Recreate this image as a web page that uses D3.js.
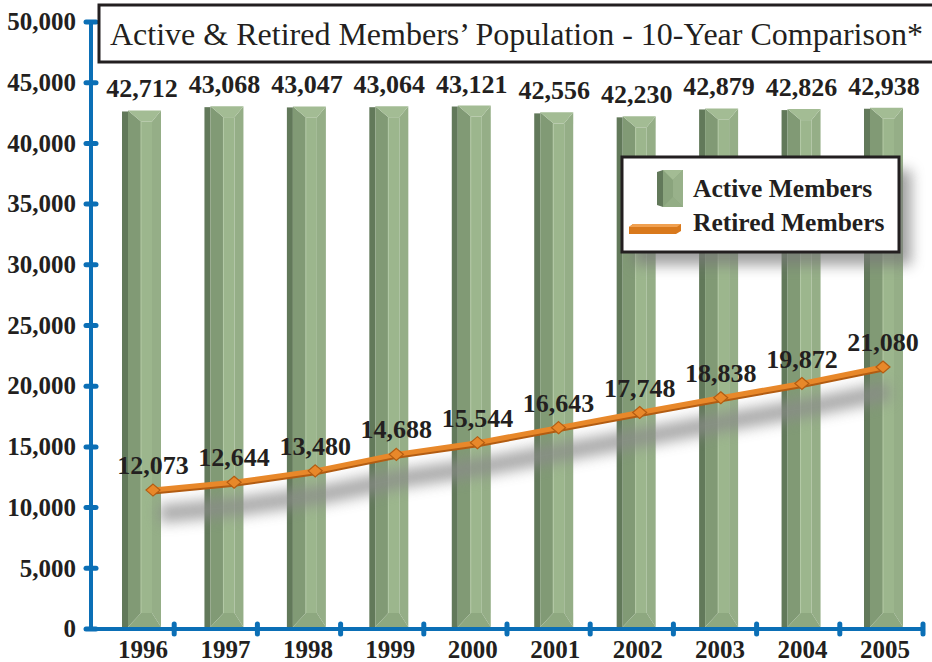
<!DOCTYPE html>
<html>
<head>
<meta charset="utf-8">
<script src="https://cdn.jsdelivr.net/npm/d3@7"></script>
<style>
  body { margin: 0; background: #fff; }
  text { font-family: "Liberation Serif", "DejaVu Serif", serif; fill: #231f20; }
</style>
</head>
<body>
<div id="chart"></div>
<script>
// Active & retired members, 10-year comparison
const years = ['1996', '1997', '1998', '1999', '2000', '2001', '2002', '2003', '2004', '2005'];
const activeMembers = [42712, 43068, 43047, 43064, 43121, 42556, 42230, 42879, 42826, 42938];
const retiredMembers = [12073, 12644, 13480, 14688, 15544, 16643, 17748, 18838, 19872, 21080];
const yTicks = [0, 5000, 10000, 15000, 20000, 25000, 30000, 35000, 40000, 45000, 50000];

const width = 932;
const height = 662;
const blue = '#0b6fb6';
const fmt = d3.format(',');

const svg = d3.select('#chart')
  .append('svg')
  .attr('width', width)
  .attr('height', height);

const defs = svg.append('defs');
defs.append('filter').attr('id', 'blur')
  .attr('x', '-20%').attr('y', '-50%').attr('width', '140%').attr('height', '200%')
  .append('feGaussianBlur').attr('stdDeviation', 7);

// scales
const y = d3.scaleLinear().domain([0, 50000]).range([629, 22]);
// the line sits on a slightly nearer plane (3d perspective in the original)
const yLine = d3.scaleLinear().domain([0, 50000]).range([655, -28]);
const xAxis = d3.scaleBand().domain(years).range([91, 923]);
const xBar = d3.scalePoint().domain(years).range([144, 886]);
const xLine = d3.scalePoint().domain(years).range([153, 883]);

// bars
const bars = svg.append('g')
  .selectAll('g')
  .data(years.map((yr, i) => ({ year: yr, value: activeMembers[i] })))
  .enter().append('g');

bars.each(function (d) {
  const g = d3.select(this);
  const c = xBar(d.year);
  const x0 = c - 16, x1 = c + 17;
  const top = y(d.value), bot = y(0) - 2;
  const il = x0 + 13, ir = x1 - 9, it = top + 11, ib = bot - 14;
  g.append('rect').attr('x', x0 - 6).attr('y', top + 1).attr('width', 6).attr('height', bot - top - 1)
    .attr('fill', '#62795a');
  g.append('polygon').attr('points', [[x0, top], [il, it], [il, ib], [x0, bot]].join(' '))
    .attr('fill', '#819a75');
  g.append('polygon').attr('points', [[x1, top], [ir, it], [ir, ib], [x1, bot]].join(' '))
    .attr('fill', '#95ae87');
  g.append('rect').attr('x', il).attr('y', it).attr('width', ir - il).attr('height', ib - it)
    .attr('fill', '#9cb68d');
  g.append('line').attr('x1', il).attr('x2', il).attr('y1', it).attr('y2', ib)
    .attr('stroke', '#b3c9a5').attr('stroke-width', 1);
  g.append('polygon').attr('points', [[x0, top], [x1, top], [ir, it], [il, it]].join(' '))
    .attr('fill', '#a3bc94');
  g.append('polygon').attr('points', [[x0, bot], [x1, bot], [ir, ib], [il, ib]].join(' '))
    .attr('fill', '#8ea880');
});

bars.append('text')
  .attr('x', d => xBar(d.year) - 2)
  .attr('y', d => y(d.value) - 13)
  .attr('text-anchor', 'middle')
  .attr('font-size', 26)
  .attr('font-weight', 'bold')
  .text(d => fmt(d.value));

// retired line
const linePts = years.map((yr, i) => ({ year: yr, value: retiredMembers[i] }));
const line = d3.line().x(d => xLine(d.year)).y(d => yLine(d.value));

svg.append('path')
  .datum(linePts)
  .attr('d', line)
  .attr('transform', 'translate(6,24)')
  .attr('fill', 'none')
  .attr('stroke', '#8a8a8a')
  .attr('stroke-width', 18)
  .attr('opacity', 0.75)
  .attr('filter', 'url(#blur)');

svg.append('path')
  .datum(linePts)
  .attr('d', line)
  .attr('transform', 'translate(0,2)')
  .attr('fill', 'none')
  .attr('stroke', '#b25c12')
  .attr('stroke-width', 5);

svg.append('path')
  .datum(linePts)
  .attr('d', line)
  .attr('fill', 'none')
  .attr('stroke', '#e8882a')
  .attr('stroke-width', 5);

svg.append('g')
  .selectAll('path')
  .data(linePts)
  .enter().append('path')
  .attr('d', 'M0,-6L7,0L0,6L-7,0Z')
  .attr('transform', d => `translate(${xLine(d.year)},${yLine(d.value)})`)
  .attr('fill', '#e8882a')
  .attr('stroke', '#b25c12')
  .attr('stroke-width', 1.2);

svg.append('g')
  .selectAll('text')
  .data(linePts)
  .enter().append('text')
  .attr('x', d => xLine(d.year))
  .attr('y', d => yLine(d.value) - 16)
  .attr('text-anchor', 'middle')
  .attr('font-size', 26)
  .attr('font-weight', 'bold')
  .text(d => fmt(d.value));

// axes
const axis = svg.append('g');
axis.append('line')
  .attr('x1', 91).attr('x2', 91).attr('y1', y(50000)).attr('y2', y(0) + 2)
  .attr('stroke', blue).attr('stroke-width', 4);
axis.append('line')
  .attr('x1', 89).attr('x2', xAxis.range()[1] + 2).attr('y1', y(0)).attr('y2', y(0))
  .attr('stroke', blue).attr('stroke-width', 4);

axis.selectAll('.ytick')
  .data(yTicks)
  .enter().append('line')
  .attr('x1', 86).attr('x2', 96)
  .attr('y1', d => y(d)).attr('y2', d => y(d))
  .attr('stroke', blue).attr('stroke-width', 5).attr('stroke-linecap', 'round');

axis.selectAll('.xtick')
  .data(years)
  .enter().append('line')
  .attr('x1', d => xAxis(d) + xAxis.bandwidth())
  .attr('x2', d => xAxis(d) + xAxis.bandwidth())
  .attr('y1', y(0) - 5).attr('y2', y(0) + 5)
  .attr('stroke', blue).attr('stroke-width', 5).attr('stroke-linecap', 'round');

axis.selectAll('.ylabel')
  .data(yTicks)
  .enter().append('text')
  .attr('x', 76)
  .attr('y', d => y(d))
  .attr('dy', '0.33em')
  .attr('text-anchor', 'end')
  .attr('font-size', 25)
  .attr('font-weight', 'bold')
  .text(d => fmt(d));

axis.selectAll('.xlabel')
  .data(years)
  .enter().append('text')
  .attr('x', d => xBar(d) - 1)
  .attr('y', 658)
  .attr('text-anchor', 'middle')
  .attr('font-size', 25)
  .attr('font-weight', 'bold')
  .text(d => d);

// title box
svg.append('rect')
  .attr('x', 99).attr('y', 5).attr('width', 840).attr('height', 57)
  .attr('fill', '#fff').attr('stroke', '#231f20').attr('stroke-width', 3);
svg.append('text')
  .attr('x', 110).attr('y', 45)
  .attr('font-size', 32)
  .text('Active & Retired Members’ Population - 10-Year Comparison*');

// legend
const legend = svg.append('g');
legend.append('rect')
  .attr('x', 634).attr('y', 170).attr('width', 277).attr('height', 95)
  .attr('fill', '#777').attr('opacity', 0.7).attr('filter', 'url(#blur)');
legend.append('rect')
  .attr('x', 622).attr('y', 157).attr('width', 277).attr('height', 95)
  .attr('fill', '#fff').attr('stroke', '#231f20').attr('stroke-width', 3);

legend.append('polygon').attr('points', '657,172 663,170 663,207 657,205').attr('fill', '#62795a');
legend.append('rect').attr('x', 663).attr('y', 170).attr('width', 20).attr('height', 37).attr('fill', '#8aa47d');
legend.append('polygon').attr('points', '663,170 683,170 673,180').attr('fill', '#a3bc94');
legend.append('polygon').attr('points', '683,170 683,207 673,197 673,180').attr('fill', '#98b18a');
legend.append('polygon').attr('points', '663,207 683,207 673,197').attr('fill', '#93ad85');

legend.append('polygon').attr('points', '629,227 633,224 681,224 681,231 676,234 629,234').attr('fill', '#d9791c');
legend.append('polygon').attr('points', '629,227 633,224 681,224 677,227').attr('fill', '#f0a050');

legend.append('text')
  .attr('x', 693).attr('y', 197)
  .attr('font-size', 25.5).attr('font-weight', 'bold')
  .text('Active Members');
legend.append('text')
  .attr('x', 693).attr('y', 231)
  .attr('font-size', 25.5).attr('font-weight', 'bold')
  .text('Retired Members');
</script>
</body>
</html>
